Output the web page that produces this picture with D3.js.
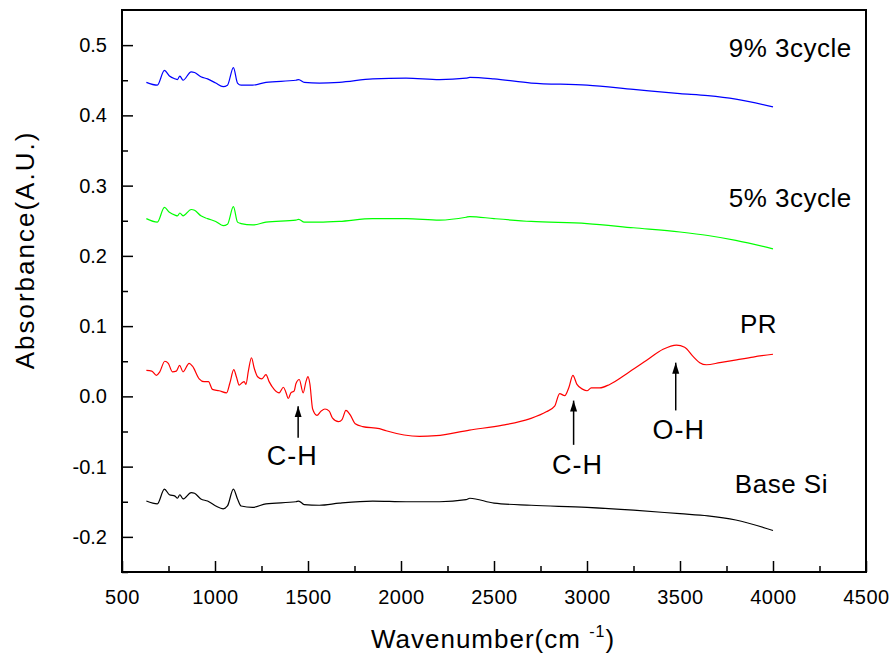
<!DOCTYPE html>
<html>
<head>
<meta charset="utf-8">
<script src="https://cdn.jsdelivr.net/npm/d3@7"></script>
<style>
  body { margin: 0; background: #fff; }
  text { font-family: Arial, "Liberation Sans", sans-serif; fill: #000; }
</style>
</head>
<body>
<div id="chart"></div>
<script>
// shared wavenumber grid for the three flat spectra
var flatWn = [631, 690, 728, 755, 785, 798, 811, 828, 872, 890, 924, 960, 1004, 1044, 1067, 1099, 1121, 1140,
  1202, 1274, 1435, 1450, 1480, 1561, 1668, 1848, 2027, 2207, 2350, 2370, 2500, 2700, 3000, 3250, 3500, 3650, 3800, 4000];

var baseSi = [-0.149, -0.153, -0.132, -0.140, -0.142, -0.145, -0.140, -0.146, -0.137, -0.138, -0.146, -0.149, -0.156,
  -0.160, -0.156, -0.132, -0.146, -0.156, -0.158, -0.153, -0.150, -0.149, -0.154, -0.155, -0.152, -0.149, -0.150,
  -0.150, -0.147, -0.145, -0.152, -0.155, -0.158, -0.162, -0.167, -0.170, -0.176, -0.191];

var pct9 = [0.447, 0.443, 0.464, 0.456, 0.452, 0.451, 0.456, 0.450, 0.462, 0.461, 0.455, 0.452, 0.446, 0.441, 0.443,
  0.468, 0.446, 0.443, 0.443, 0.447, 0.450, 0.451, 0.447, 0.446, 0.447, 0.452, 0.453, 0.451, 0.453, 0.454, 0.452,
  0.446, 0.443, 0.437, 0.431, 0.428, 0.423, 0.412];

var pct5 = [0.253, 0.248, 0.269, 0.262, 0.258, 0.257, 0.261, 0.257, 0.266, 0.265, 0.257, 0.253, 0.249, 0.243, 0.245,
  0.270, 0.248, 0.246, 0.244, 0.248, 0.251, 0.252, 0.248, 0.248, 0.249, 0.253, 0.253, 0.251, 0.255, 0.256, 0.253,
  0.249, 0.246, 0.240, 0.234, 0.229, 0.222, 0.210];

// photoresist spectrum has more structure, own grid
var prWn = [631, 660, 685, 703, 730, 749, 771, 792, 810, 828, 861, 879, 915, 941, 965, 986, 1022, 1062, 1080, 1101,
  1115, 1130, 1144, 1157, 1166, 1180, 1196, 1211, 1229, 1252, 1274, 1291, 1318, 1345, 1368, 1381, 1394, 1408, 1426,
  1435, 1453, 1474, 1489, 1500, 1510, 1525, 1548, 1570, 1591, 1614, 1632, 1664, 1683, 1704, 1726, 1754, 1794, 1884,
  1920, 2099, 2189, 2368, 2547, 2691, 2781, 2826, 2853, 2880, 2903, 2924, 2946, 2978, 3000, 3023, 3068, 3122, 3229,
  3319, 3409, 3481, 3525, 3570, 3606, 3642, 3714, 3804, 3893, 4000];

var prAbs = [0.037, 0.036, 0.030, 0.035, 0.050, 0.047, 0.035, 0.036, 0.044, 0.035, 0.047, 0.043, 0.025, 0.021, 0.021,
  0.010, 0.008, 0.005, 0.019, 0.038, 0.028, 0.016, 0.019, 0.021, 0.017, 0.037, 0.055, 0.040, 0.028, 0.025, 0.031,
  0.021, 0.010, 0.005, 0.013, 0.006, -0.003, 0.005, 0.008, 0.018, 0.024, 0.005, 0.021, 0.028, 0.018, -0.018, -0.027,
  -0.021, -0.018, -0.021, -0.031, -0.036, -0.033, -0.020, -0.026, -0.039, -0.043, -0.046, -0.049, -0.057, -0.056,
  -0.048, -0.041, -0.032, -0.022, -0.014, 0.004, 0.001, 0.013, 0.030, 0.017, 0.010, 0.008, 0.012, 0.012, 0.017,
  0.035, 0.051, 0.067, 0.073, 0.070, 0.057, 0.048, 0.045, 0.048, 0.052, 0.056, 0.060];

var xTicks = [500, 1000, 1500, 2000, 2500, 3000, 3500, 4000, 4500];
var yTicks = [-0.2, -0.1, 0.0, 0.1, 0.2, 0.3, 0.4, 0.5];

var series = [
  { name: "9% 3cycle", wn: flatWn, abs: pct9, color: "#0000ff", lx: 3762, ly: 0.483 },
  { name: "5% 3cycle", wn: flatWn, abs: pct5, color: "#00ff00", lx: 3762, ly: 0.270 },
  { name: "PR", wn: prWn, abs: prAbs, color: "#ff0000", lx: 3822, ly: 0.090 },
  { name: "Base Si", wn: flatWn, abs: baseSi, color: "#000000", lx: 3795, ly: -0.137 }
];

// peak arrows (data coords)
var arrows = [
  { label: "C-H", x: 1447, tip: -0.014, tail: -0.059, ty: -0.097, dx: -6 },
  { label: "C-H", x: 2928, tip: -0.006, tail: -0.069, ty: -0.110, dx: 4 },
  { label: "O-H", x: 3477, tip: 0.048, tail: -0.020, ty: -0.060, dx: 3 }
];

var width = 896, height = 659;
var mLeft = 122, mRight = 866, mTop = 10, mBottom = 572;

var svg = d3.select("#chart").append("svg")
  .attr("width", width)
  .attr("height", height);

svg.append("defs").append("marker")
  .attr("id", "head")
  .attr("viewBox", "0 0 10 10")
  .attr("refX", 10).attr("refY", 5)
  .attr("markerWidth", 11).attr("markerHeight", 11)
  .attr("markerUnits", "userSpaceOnUse")
  .attr("orient", "auto")
  .append("path")
  .attr("d", "M0,1.8 L10,5 L0,8.2 Z")
  .attr("fill", "#000");

var x = d3.scaleLinear().domain([500, 4500]).range([mLeft, mRight]);
var y = d3.scaleLinear().domain([-0.25, 0.55]).range([mBottom, mTop]);

// minor ticks first
var xMinor = d3.range(750, 4500, 500);
var yMinor = d3.range(-0.25, 0.55, 0.1).map(function (d) { return +d.toFixed(2); });

svg.append("g")
  .attr("transform", "translate(0," + mBottom + ")")
  .call(d3.axisBottom(x).tickValues(xMinor).tickSize(-6).tickFormat(""))
  .call(function (g) { g.select(".domain").remove(); })
  .selectAll("line").attr("stroke-width", 1.5);

svg.append("g")
  .attr("transform", "translate(" + mLeft + ",0)")
  .call(d3.axisLeft(y).tickValues(yMinor).tickSize(-6).tickFormat(""))
  .call(function (g) { g.select(".domain").remove(); })
  .selectAll("line").attr("stroke-width", 1.5);

var xAxis = svg.append("g")
  .attr("transform", "translate(0," + mBottom + ")")
  .call(d3.axisBottom(x).tickValues(xTicks).tickSize(-11).tickPadding(18)
    .tickFormat(function (d) { return d; }));
xAxis.select(".domain").remove();
xAxis.selectAll("line").attr("stroke-width", 1.5);
xAxis.selectAll("text").style("font-size", "20px").style("letter-spacing", "0.5px").attr("fill", "#000");

var yAxis = svg.append("g")
  .attr("transform", "translate(" + mLeft + ",0)")
  .call(d3.axisLeft(y).tickValues(yTicks).tickSize(-11).tickPadding(15)
    .tickFormat(function (d) { return d.toFixed(1); }));
yAxis.select(".domain").remove();
yAxis.selectAll("line").attr("stroke-width", 1.5);
yAxis.selectAll("text").style("font-size", "20px").attr("fill", "#000");

// frame
svg.append("rect")
  .attr("x", mLeft).attr("y", mTop)
  .attr("width", mRight - mLeft).attr("height", mBottom - mTop)
  .attr("fill", "none")
  .attr("stroke", "#000")
  .attr("stroke-width", 2);

var line = d3.line().curve(d3.curveMonotoneX);

series.forEach(function (s) {
  var pts = s.wn.map(function (w, i) { return [x(w), y(s.abs[i])]; });
  svg.append("path")
    .attr("d", line(pts))
    .attr("fill", "none")
    .attr("stroke", s.color)
    .attr("stroke-width", 1.2);
  svg.append("text")
    .attr("x", x(s.lx)).attr("y", y(s.ly))
    .style("font-size", "26px")
    .style("letter-spacing", "0.5px")
    .text(s.name);
});

arrows.forEach(function (a) {
  svg.append("line")
    .attr("x1", x(a.x)).attr("y1", y(a.tail))
    .attr("x2", x(a.x)).attr("y2", y(a.tip))
    .attr("stroke", "#000")
    .attr("stroke-width", 1.5)
    .attr("marker-end", "url(#head)");
  svg.append("text")
    .attr("x", x(a.x) + a.dx).attr("y", y(a.ty))
    .attr("text-anchor", "middle")
    .style("font-size", "27px")
    .style("letter-spacing", "1px")
    .text(a.label);
});

// axis titles
var xt = svg.append("text")
  .attr("x", 493).attr("y", 648)
  .attr("text-anchor", "middle")
  .style("font-size", "26px")
  .style("letter-spacing", "1px");
xt.append("tspan").text("Wavenumber(cm ");
xt.append("tspan").attr("dy", -11).style("font-size", "16px").text("-1");
xt.append("tspan").attr("dy", 11).text(")");

svg.append("text")
  .attr("transform", "translate(34,250) rotate(-90)")
  .attr("text-anchor", "middle")
  .style("font-size", "26px")
  .style("letter-spacing", "2px")
  .text("Absorbance(A.U.)");
</script>
</body>
</html>
